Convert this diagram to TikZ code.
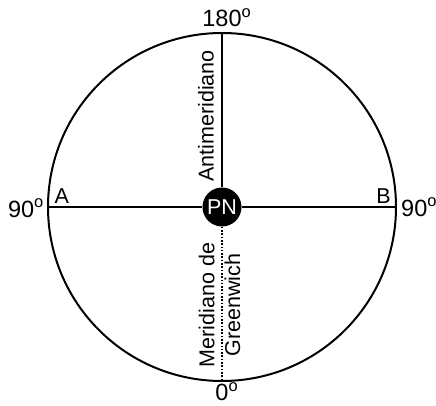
\documentclass[tikz,border=0pt]{standalone}
\usepackage{fontspec}
\setmainfont{Liberation Sans}
\begin{document}
\begin{tikzpicture}[x=1pt,y=1pt,
  lbl/.style={inner sep=0pt,font=\fontsize{21.5}{25.8}\selectfont},
  deg/.style={inner sep=0pt,font=\fontsize{23.5}{28}\selectfont},
  ln/.style={line width=2pt},
  dotln/.style={line width=2pt,dash pattern=on 1.6pt off 1.7pt}]
\useasboundingbox (0,0) rectangle (436,405);
\coordinate (C) at (222,198);
\node[draw,ln,circle,minimum size=348pt,inner sep=0pt] (globe) at (C) {};
\coordinate (top) at (222,372);
\coordinate (bot) at (222,24);
\coordinate (lft) at (48,198);
\coordinate (rgt) at (396,198);
\node[circle,fill=black,minimum size=39pt,inner sep=0pt,text=white,
  font=\fontsize{21.5}{25.8}\selectfont] (pn) at (C) {PN};
\draw[ln] (lft) -- (pn.west);
\draw[ln] (pn.east) -- (rgt);
\draw[ln] (pn.north) -- (top);
\draw[dotln] (pn.south) -- (bot);
\node[deg,anchor=base] (n180) at (222,378) {180\rlap{\textsuperscript{o}}};
\node[deg,anchor=base] (n0) at (222,4.5) {0\rlap{\textsuperscript{o}}};
\node[deg,anchor=base east] (w90) at (44,188) {90\textsuperscript{o}};
\node[deg,anchor=base west] (e90) at (401,189) {90\textsuperscript{o}};
\node[lbl,anchor=base west] (a) at (54.5,202) {A};
\node[lbl,anchor=base east] (b) at (391,202) {B};
\node[lbl,anchor=base,rotate=90] (anti) at (213.5,289) {Antimeridiano};
\node[lbl,align=center,rotate=90] (green) at (219.5,100) {Meridiano de\\Greenwich};
\end{tikzpicture}
\end{document}
